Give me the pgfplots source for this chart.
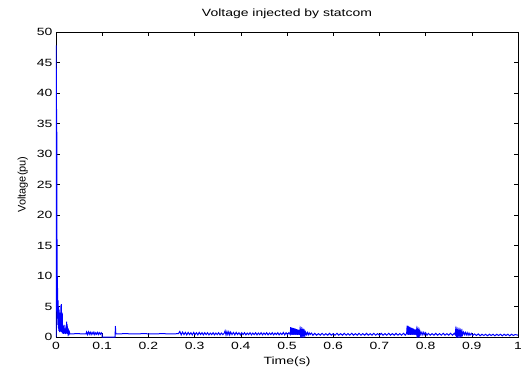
\documentclass[border=0pt]{standalone}
\usepackage{pgfplots}
\pgfplotsset{compat=1.18}
\usepackage{fontspec}
\setmainfont{Liberation Sans}[FakeStretch=1.33]
\newfontfamily\plainfont{Liberation Sans}
\begin{document}
\begin{tikzpicture}
\useasboundingbox (-56pt,-30pt) rectangle (465pt,337pt);
\begin{axis}[
  at={(0,0)}, anchor=south west,
  scale only axis, width=462pt, height=305pt,
  xmin=0, xmax=1, ymin=0, ymax=50,
  xtick={0,0.1,0.2,0.3,0.4,0.5,0.6,0.7,0.8,0.9,1},
  xticklabels={0,0.1,0.2,0.3,0.4,0.5,0.6,0.7,0.8,0.9,1},
  ytick={0,5,10,15,20,25,30,35,40,45,50},
  yticklabels={0,5,10,15,20,25,30,35,40,45,50},
  tick align=inside, major tick length=4pt,
  tick style={black, line width=0.5pt},
  axis line style={black, line width=0.7pt},
  font=\fontsize{10.5}{12}\selectfont,
  ticklabel style={font=\fontsize{10.5}{12}\selectfont},
  xticklabel style={yshift=-1.5pt},
  title={Voltage injected by statcom},
  title style={at={(axis description cs:0.5,1)}, anchor=base, yshift=10pt, inner sep=0pt},
  xlabel={Time(s)},
  xlabel style={at={(axis description cs:0.5,0)}, anchor=base, yshift=-27pt, inner sep=0pt},
  ylabel={Voltage(pu)},
  ylabel style={at={(axis description cs:-0.0606,0.5)}, anchor=south, inner sep=0pt, font=\plainfont\fontsize{11}{13}\selectfont},
  clip=true,
]
\addplot[blue, line width=1pt] table {
x y
0 0
0.0003 47.8
0.0007 30
0.001 44
0.0013 20
0.0016 35
0.002 12
0.0023 16
0.0026 6
0.003 10
0.0033 3
0.0036 8
0.004 2
0.0045 6
0.005 1.5
0.0055 5
0.006 1
0.0065 4.5
0.007 1.2
0.0075 3.5
0.008 0.8
0.0085 4
0.009 1
0.0095 3
0.010 0.9
0.0105 5.2
0.011 1.5
0.0115 5.4
0.012 0.8
0.0125 3
0.013 1
0.0135 4
0.014 0.6
0.0145 2
0.015 0.7
0.0155 1.8
0.016 0.5
0.0165 1.5
0.017 0.8
0.0175 2
0.018 0.6
0.019 1.4
0.020 0.5
0.021 1.2
0.022 0.6
0.023 2.5
0.024 0.5
0.025 1.3
0.026 0.6
0.027 1.0
0.028 0.5
0.029 0.8
0.030 0.5
0.045 0.55
0.065 0.5
0.066 0.8
0.068 0.4
0.070 0.85
0.072 0.45
0.074 0.8
0.076 0.4
0.078 0.75
0.080 0.45
0.082 0.8
0.084 0.4
0.086 0.7
0.088 0.45
0.090 0.75
0.092 0.4
0.094 0.7
0.096 0.45
0.098 0.7
0.100 0.5
0.1001 0
0.128 0
0.1285 1.8
0.1295 0.5
0.15 0.55
0.17 0.5
0.19 0.55
0.21 0.5
0.23 0.55
0.25 0.5
0.265 0.55
0.268 0.9
0.271 0.35
0.274 0.8
0.277 0.4
0.280 0.75
0.283 0.35
0.286 0.75
0.289 0.4
0.292 0.7
0.295 0.35
0.298 0.75
0.301 0.4
0.304 0.7
0.307 0.35
0.310 0.75
0.313 0.4
0.316 0.7
0.319 0.35
0.322 0.7
0.325 0.4
0.328 0.7
0.331 0.35
0.334 0.65
0.337 0.4
0.340 0.7
0.343 0.35
0.346 0.65
0.349 0.4
0.352 0.7
0.355 0.35
0.358 0.65
0.361 0.4
0.364 0.6
0.366 1.0
0.368 0.35
0.370 0.9
0.372 0.4
0.374 0.85
0.376 0.35
0.378 0.8
0.381 0.4
0.384 0.75
0.387 0.35
0.390 0.75
0.393 0.4
0.396 0.7
0.399 0.35
0.402 0.7
0.405 0.4
0.408 0.7
0.411 0.35
0.414 0.65
0.417 0.4
0.420 0.7
0.423 0.35
0.426 0.65
0.429 0.4
0.432 0.7
0.435 0.35
0.438 0.65
0.441 0.4
0.444 0.7
0.447 0.35
0.450 0.65
0.453 0.4
0.456 0.7
0.459 0.35
0.462 0.65
0.465 0.4
0.468 0.7
0.471 0.35
0.474 0.65
0.477 0.4
0.480 0.7
0.483 0.35
0.486 0.65
0.489 0.4
0.492 0.75
0.495 0.35
0.498 0.7
0.501 0.4
0.504 0.7
0.507 0.4
0.508 1.6
0.509 0.4
0.510 1.55
0.511 0.35
0.512 1.5
0.513 0.4
0.514 1.45
0.515 0.35
0.516 1.4
0.517 0.4
0.518 1.35
0.519 0.35
0.520 1.3
0.521 0.4
0.522 1.25
0.523 0.35
0.524 1.2
0.525 0.4
0.526 1.15
0.527 0.35
0.528 1.1
0.529 0.4
0.530 1.05
0.531 0.35
0.532 1.0
0.533 0.4
0.534 0.95
0.535 0.35
0.536 0.9
0.537 0.4
0.538 0.85
0.539 0.35
0.540 0.8
0.542 0.4
0.544 0.75
0.546 0.35
0.548 0.7
0.550 0.4
0.553 0.65
0.556 0.3
0.560 0.6
0.564 0.3
0.568 0.55
0.572 0.3
0.576 0.6
0.580 0.3
0.584 0.55
0.588 0.3
0.592 0.6
0.596 0.3
0.600 0.55
0.604 0.3
0.608 0.6
0.612 0.3
0.616 0.55
0.620 0.3
0.624 0.6
0.628 0.3
0.632 0.55
0.636 0.3
0.640 0.6
0.644 0.3
0.648 0.55
0.652 0.3
0.656 0.6
0.660 0.3
0.664 0.55
0.668 0.3
0.672 0.6
0.676 0.3
0.680 0.55
0.684 0.3
0.688 0.6
0.692 0.3
0.696 0.55
0.700 0.3
0.704 0.6
0.708 0.3
0.712 0.55
0.716 0.3
0.720 0.6
0.724 0.3
0.728 0.55
0.732 0.3
0.736 0.6
0.740 0.3
0.744 0.55
0.748 0.3
0.752 0.6
0.756 0.3
0.759 0.6
0.760 1.85
0.761 0.4
0.762 1.8
0.763 0.35
0.764 1.7
0.765 0.4
0.766 1.65
0.767 0.35
0.768 1.55
0.769 0.4
0.770 1.5
0.771 0.35
0.772 1.4
0.773 0.4
0.774 1.35
0.775 0.35
0.776 1.25
0.777 0.4
0.778 1.2
0.779 0.35
0.780 1.1
0.781 0.4
0.782 1.05
0.783 0.35
0.784 1.0
0.785 0.4
0.786 0.95
0.787 0.35
0.788 0.9
0.790 0.4
0.792 0.8
0.794 0.35
0.796 0.75
0.798 0.4
0.800 0.7
0.803 0.3
0.806 0.6
0.810 0.3
0.814 0.55
0.818 0.3
0.822 0.6
0.826 0.3
0.830 0.55
0.834 0.3
0.838 0.6
0.842 0.3
0.846 0.55
0.850 0.3
0.854 0.6
0.858 0.3
0.862 0.6
0.864 0.4
0.865 1.1
0.866 0.4
0.867 1.05
0.868 0.35
0.869 1.0
0.870 0.4
0.871 0.95
0.872 0.35
0.873 0.95
0.874 0.4
0.875 0.9
0.876 0.35
0.877 0.85
0.878 0.4
0.879 0.85
0.880 0.35
0.882 0.8
0.884 0.4
0.886 0.75
0.888 0.35
0.890 0.7
0.892 0.3
0.894 0.65
0.896 0.3
0.899 0.6
0.902 0.25
0.906 0.5
0.910 0.25
0.914 0.5
0.918 0.2
0.922 0.45
0.926 0.25
0.930 0.45
0.934 0.2
0.938 0.45
0.942 0.25
0.946 0.45
0.950 0.2
0.954 0.45
0.958 0.25
0.962 0.45
0.966 0.2
0.970 0.45
0.974 0.25
0.978 0.45
0.982 0.2
0.986 0.45
0.990 0.25
0.994 0.4
1.000 0.3
};
\end{axis}
\end{tikzpicture}
\end{document}
